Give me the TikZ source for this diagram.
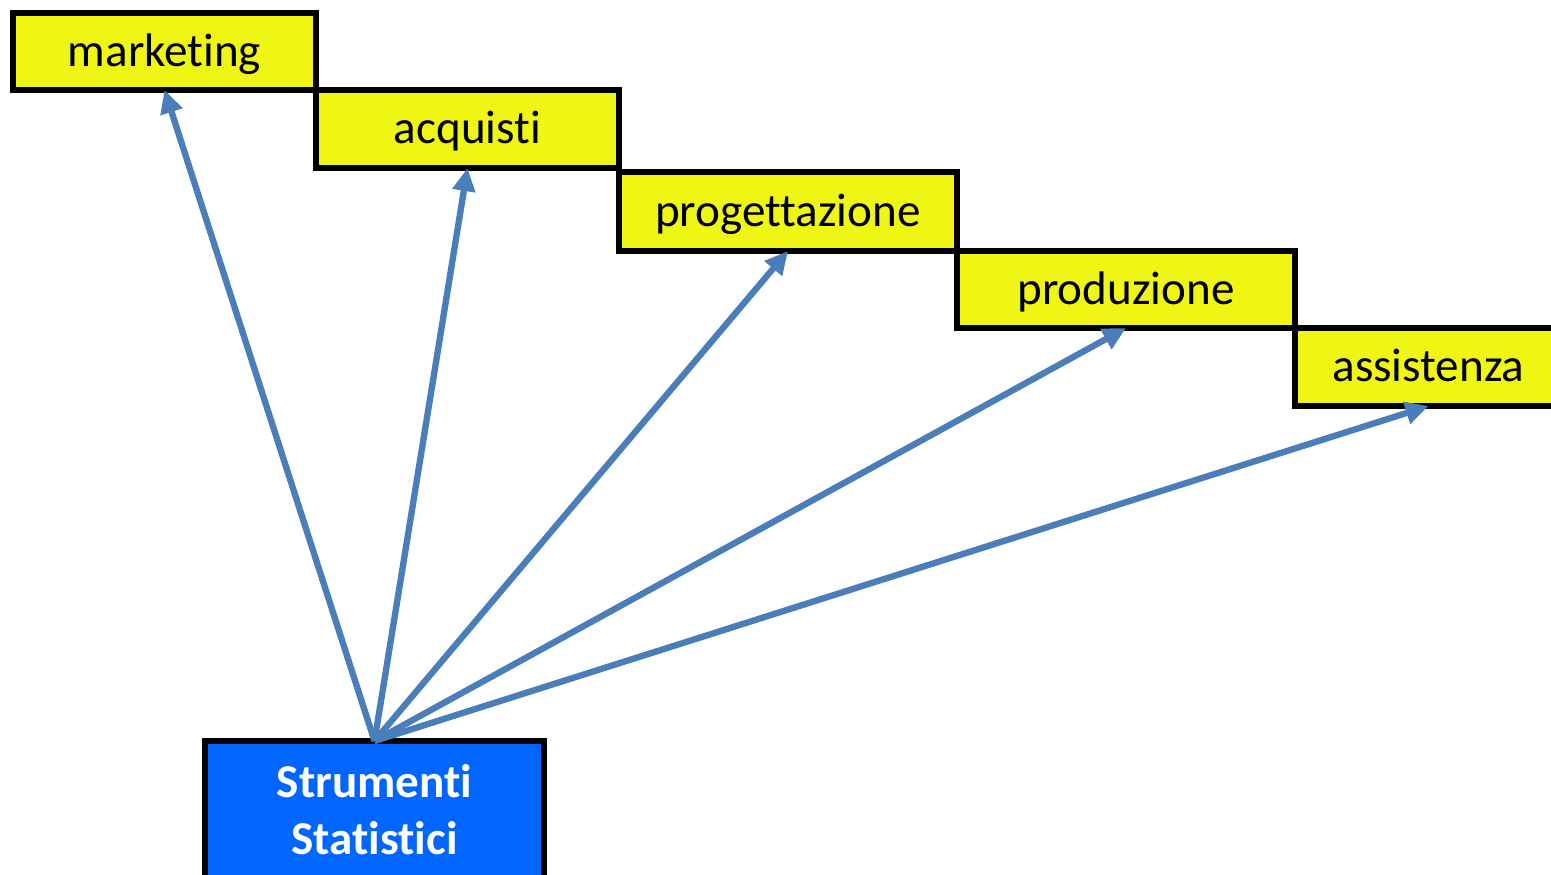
\documentclass[tikz,border=0pt]{standalone}
\usepackage{fontspec}
\setmainfont{Carlito}[Ligatures=CommonOff]
\usetikzlibrary{positioning,arrows.meta}
\definecolor{deptyellow}{HTML}{F0F614}
\definecolor{toolblue}{HTML}{0066FF}
\definecolor{arrowblue}{HTML}{4A7EBB}
\tikzset{dept node/.style={rectangle,fill=deptyellow,draw=black,line width=1.6pt,outer sep=0pt,inner sep=0pt,
                           text height=2.9mm,text depth=0pt,font=\fontsize{13.4}{16}\selectfont},
         tool node/.style={rectangle,fill=toolblue,draw=black,line width=1.6pt,outer sep=0pt,inner sep=0pt,
                           minimum width=33.9mm,minimum height=13.8mm,text=white,align=center,
                           font=\fontsize{13.4}{16.2}\selectfont\bfseries},
         link/.style={-{Triangle[length=2.3mm,width=2.2mm]},draw=arrowblue,fill=arrowblue,line width=1.8pt}
}

\begin{document}
\begin{tikzpicture}
\useasboundingbox (0,0) rectangle (15.51,-8.74);

% staircase of departments
\node [dept node,anchor=north west,minimum width=30.3mm,minimum height=7.7mm] (marketing) at (0.13,-0.13) {marketing};
\node [dept node,anchor=north west,minimum width=30.3mm,minimum height=7.8mm] (acquisti) at (marketing.south east) {acquisti};
\node [dept node,below right = 0.4mm and 0mm of acquisti.south east,minimum width=33.8mm,minimum height=7.9mm] (progettazione) {progettazione};
\node [dept node,anchor=north west,minimum width=33.8mm,minimum height=7.7mm] (produzione) at (progettazione.south east) {produzione};
\node [dept node,anchor=north west,minimum width=26.7mm,minimum height=7.8mm] (assistenza) at (produzione.south east) {assistenza};

\node [tool node,anchor=north] (strumenti) at (3.745,-7.41) {Strumenti\\Statistici};

\foreach \dept in {marketing,acquisti,progettazione,produzione,assistenza}
  \draw [link] (strumenti.north) -- (\dept.south);
\end{tikzpicture}
\end{document}
